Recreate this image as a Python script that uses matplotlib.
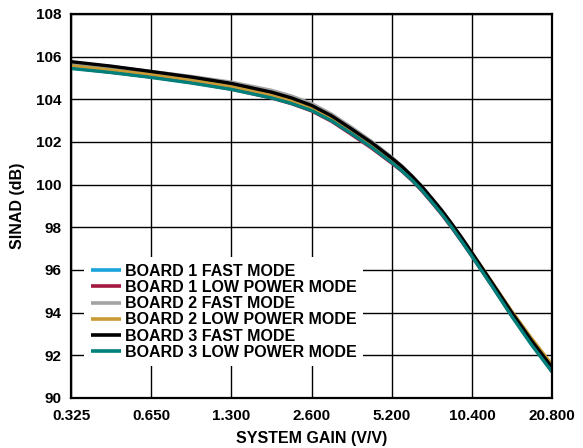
import numpy as np
import matplotlib.pyplot as plt
from matplotlib.ticker import FixedLocator, FixedFormatter, NullLocator

plt.rcParams['font.family'] = ['Liberation Sans', 'DejaVu Sans']
plt.rcParams['font.weight'] = 'bold'

# system gain settings (V/V) where SINAD was read
gain = [0.325, 0.46, 0.65, 0.919, 1.3, 1.838, 2.186, 2.6, 3.092, 3.677,
        4.373, 5.2, 5.67, 6.184, 6.74, 7.354, 8.02, 8.745, 9.53, 10.4,
        12.37, 14.71, 17.49, 20.8]

board1_fast = [105.66, 105.46, 105.22, 104.96, 104.66, 104.26, 103.99, 103.64, 103.15, 102.54,
               101.9, 101.18, 100.8, 100.35, 99.85, 99.3, 98.73, 98.1, 97.45, 96.76,
               95.36, 93.95, 92.62, 91.36]
board1_lowpower = [105.47, 105.26, 105.04, 104.78, 104.47, 104.06, 103.79, 103.45, 102.96, 102.34,
                   101.7, 101.0, 100.63, 100.2, 99.71, 99.16, 98.59, 97.97, 97.32, 96.64,
                   95.25, 93.84, 92.5, 91.22]
board2_fast = [105.72, 105.53, 105.3, 105.07, 104.8, 104.42, 104.15, 103.8, 103.3, 102.68,
               102.02, 101.28, 100.88, 100.42, 99.92, 99.36, 98.78, 98.15, 97.49, 96.8,
               95.4, 93.99, 92.68, 91.45]
board2_lowpower = [105.57, 105.37, 105.16, 104.9, 104.6, 104.2, 103.93, 103.58, 103.09, 102.48,
                   101.85, 101.14, 100.75, 100.32, 99.83, 99.28, 98.71, 98.1, 97.46, 96.79,
                   95.42, 94.04, 92.76, 91.55]
board3_fast = [105.76, 105.55, 105.3, 105.04, 104.74, 104.33, 104.06, 103.71, 103.22, 102.6,
               101.96, 101.24, 100.85, 100.4, 99.91, 99.35, 98.78, 98.15, 97.5, 96.8,
               95.4, 93.98, 92.65, 91.42]
board3_lowpower = [105.44, 105.25, 105.02, 104.76, 104.46, 104.06, 103.8, 103.47, 102.99, 102.38,
                   101.74, 101.03, 100.65, 100.22, 99.74, 99.18, 98.61, 97.99, 97.33, 96.64,
                   95.24, 93.8, 92.45, 91.22]

series = [
    ('BOARD 1 FAST MODE', board1_fast, '#1aa3da'),
    ('BOARD 1 LOW POWER MODE', board1_lowpower, '#a3193f'),
    ('BOARD 2 FAST MODE', board2_fast, '#a3a3a3'),
    ('BOARD 2 LOW POWER MODE', board2_lowpower, '#c99a35'),
    ('BOARD 3 FAST MODE', board3_fast, '#000000'),
    ('BOARD 3 LOW POWER MODE', board3_lowpower, '#00807b'),
]

xticks = [0.325, 0.65, 1.3, 2.6, 5.2, 10.4, 20.8]
xticklabels = ['0.325', '0.650', '1.300', '2.600', '5.200', '10.400', '20.800']
yticks = [90, 92, 94, 96, 98, 100, 102, 104, 106, 108]

fig = plt.figure(figsize=(5.83, 4.48), dpi=100)
ax = fig.add_axes([0.1218, 0.112, 0.8252, 0.857])

for label, vals, color in series:
    ax.plot(gain, vals, color=color, lw=2.4, label=label,
            solid_capstyle='butt', solid_joinstyle='round')

ax.set_xscale('log')
ax.set_xlim(0.325, 20.8)
ax.set_ylim(90, 108)
ax.xaxis.set_major_locator(FixedLocator(xticks))
ax.xaxis.set_major_formatter(FixedFormatter(xticklabels))
ax.xaxis.set_minor_locator(NullLocator())
ax.set_yticks(yticks)

ax.grid(True, color='black', lw=1.0)
ax.set_axisbelow(True)
for sp in ax.spines.values():
    sp.set_linewidth(1.6)

ax.tick_params(axis='both', length=0, labelsize=11)
ax.tick_params(axis='x', pad=8)
ax.tick_params(axis='y', pad=7)

ax.set_xlabel('SYSTEM GAIN (V/V)', fontsize=11.5, fontweight='bold', labelpad=6)
ax.set_ylabel('SINAD (dB)', fontsize=11.5, fontweight='bold', labelpad=8)

leg = ax.legend(loc='lower left', bbox_to_anchor=(0.028, 0.082), borderaxespad=0,
                fontsize=11.5, frameon=True, fancybox=False, framealpha=1,
                facecolor='white', edgecolor='none', borderpad=0.4,
                handlelength=1.9, handletextpad=0.25, labelspacing=0.08)
for line in leg.get_lines():
    line.set_linewidth(2.6)

fig.savefig('out.png', dpi=100)
